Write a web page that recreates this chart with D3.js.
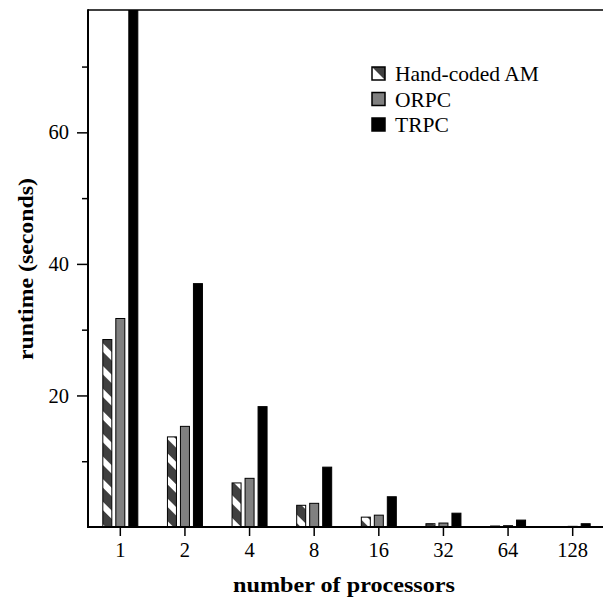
<!DOCTYPE html>
<html>
<head>
<meta charset="utf-8">
<script src="https://cdn.jsdelivr.net/npm/d3@7"></script>
<style>
  html, body { margin: 0; padding: 0; background: #fff; }
  svg { display: block; }
  text { font-family: "Liberation Serif", "Times New Roman", serif; fill: #000; }
</style>
</head>
<body>
<svg id="chart" width="603" height="601"></svg>
<script>
const categories = ["1", "2", "4", "8", "16", "32", "64", "128"];
const seriesNames = ["Hand-coded AM", "ORPC", "TRPC"];
const handCoded = [28.5, 13.7, 6.7, 3.3, 1.5, 0.5, 0.15, 0.05];
const orpc = [31.7, 15.3, 7.4, 3.6, 1.8, 0.6, 0.2, 0.1];
const trpc = [82, 37, 18.3, 9.1, 4.6, 2.1, 1.05, 0.5];
const majorTicks = [20, 40, 60];
const minorTicks = [10, 30, 50, 70];
const xTitle = "number of processors";
const yTitle = "runtime (seconds)";

const seriesValues = [handCoded, orpc, trpc];
const fills = ["url(#stripes)", "#808080", "#000"];

const svg = d3.select("#chart");
const pLeft = 88, pRight = 605, pTop = 10, pBottom = 527;

const x = d3.scaleBand().domain(categories).range([pLeft, pRight]).padding(0);
const xi = d3.scaleBand().domain(seriesNames).range([-18, 18]).paddingInner(3 / 13);
const y = d3.scaleLinear().domain([0, 78.6]).range([pBottom, pTop]);

const defs = svg.append("defs");
const pat = defs.append("pattern")
  .attr("id", "stripes")
  .attr("patternUnits", "userSpaceOnUse")
  .attr("width", 16).attr("height", 16)
  .attr("patternTransform", "rotate(-45)");
pat.append("rect").attr("width", 16).attr("height", 16).attr("fill", "#404040");
pat.append("rect").attr("x", 0).attr("width", 6).attr("height", 16).attr("fill", "#fff");

defs.append("clipPath").attr("id", "plotclip")
  .append("rect").attr("x", pLeft).attr("y", pTop).attr("width", 603 - pLeft).attr("height", pBottom - pTop);

// bars
const bars = svg.append("g").attr("clip-path", "url(#plotclip)");
seriesNames.forEach((s, si) => {
  bars.selectAll(null)
    .data(categories.map((c, i) => ({ c, v: seriesValues[si][i] })))
    .join("rect")
    .attr("x", d => x(d.c) + x.bandwidth() / 2 + xi(s) + 0.5)
    .attr("width", xi.bandwidth() - 1)
    .attr("y", d => y(d.v))
    .attr("height", d => y(0) - y(d.v))
    .attr("fill", fills[si])
    .attr("stroke", "#000")
    .attr("stroke-width", 1);
});

// top line
svg.append("line").attr("x1", pLeft).attr("x2", 603).attr("y1", pTop).attr("y2", pTop)
  .attr("stroke", "#000").attr("stroke-width", 1.5);

// y axis
const yAxis = svg.append("g").attr("transform", `translate(${pLeft},0)`)
  .call(d3.axisLeft(y).tickValues(majorTicks).tickSize(11).tickPadding(8).tickFormat(d3.format("d")));
yAxis.select(".domain").remove();
yAxis.selectAll(".tick line").attr("stroke-width", 1.5);
yAxis.selectAll(".tick text").style("font-size", "20.5px").style("font-family", "Liberation Serif, serif");
const yMinor = svg.append("g").attr("transform", `translate(${pLeft},0)`)
  .call(d3.axisLeft(y).tickValues(minorTicks).tickSize(6).tickFormat(""));
yMinor.select(".domain").remove();
yMinor.selectAll(".tick line").attr("stroke-width", 1.5);
svg.append("line").attr("x1", pLeft).attr("x2", pLeft).attr("y1", pTop - 0.75).attr("y2", pBottom + 1)
  .attr("stroke", "#000").attr("stroke-width", 2);

// x axis
const xAxis = svg.append("g").attr("transform", `translate(0,${pBottom})`)
  .call(d3.axisBottom(x).tickSize(9).tickPadding(6));
xAxis.select(".domain").remove();
xAxis.selectAll(".tick line").attr("stroke-width", 1.5);
xAxis.selectAll(".tick text").style("font-size", "20.5px").style("font-family", "Liberation Serif, serif");
svg.append("line").attr("x1", pLeft - 1).attr("x2", 603).attr("y1", pBottom).attr("y2", pBottom)
  .attr("stroke", "#000").attr("stroke-width", 2);

// titles
svg.append("text").attr("x", 344).attr("y", 592).attr("text-anchor", "middle")
  .attr("textLength", 222).attr("lengthAdjust", "spacingAndGlyphs")
  .style("font-size", "22px").style("font-weight", "bold").text(xTitle);
svg.append("text").attr("transform", "translate(33,269) rotate(-90)").attr("text-anchor", "middle")
  .attr("textLength", 182).attr("lengthAdjust", "spacingAndGlyphs")
  .style("font-size", "22px").style("font-weight", "bold").text(yTitle);

// legend
const legend = svg.append("g").attr("transform", "translate(372,67)");
seriesNames.forEach((s, i) => {
  const g = legend.append("g").attr("transform", `translate(0,${i * 25.5})`);
  if (i === 0) {
    g.append("rect").attr("width", 13).attr("height", 13).attr("fill", "#fff");
    g.append("path").attr("d", "M0,0L13,0L13,13Z").attr("fill", "#404040");
    g.append("rect").attr("width", 13).attr("height", 13).attr("fill", "none").attr("stroke", "#000").attr("stroke-width", 1.5);
  } else {
    g.append("rect").attr("width", 13).attr("height", 13).attr("fill", fills[i]).attr("stroke", "#000").attr("stroke-width", 1.5);
  }
  g.append("text").attr("x", 23).attr("y", 14).style("font-size", "21.5px").text(s);
});
</script>
</body>
</html>
